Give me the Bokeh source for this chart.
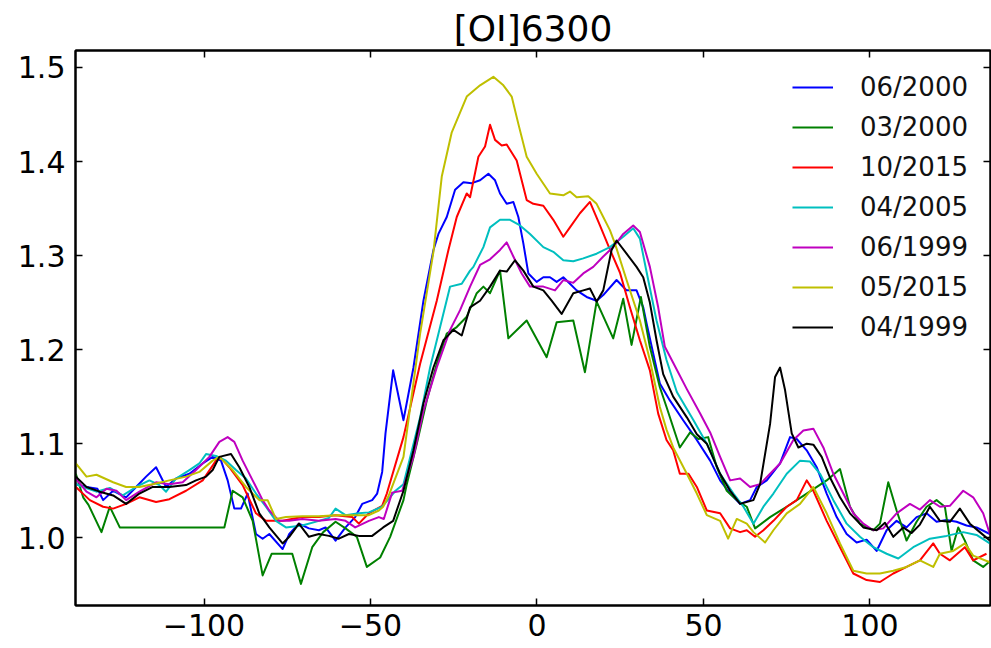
from bokeh.plotting import figure
from bokeh.models import (Range1d, FixedTicker, CustomJSTickFormatter, LinearAxis,
                          Legend, LegendItem, CustomLabelingPolicy)
from bokeh.embed import file_html
from bokeh.resources import INLINE

TITLE = "[OI]6300"
X_TICKS = [-100, -50, 0, 50, 100]
Y_TICKS = [1.0, 1.1, 1.2, 1.3, 1.4, 1.5]

LABELS = ["06/2000", "03/2000", "10/2015", "04/2005", "06/1999", "05/2015", "04/1999"]
COLORS = ["#0000ff", "#008000", "#ff0000", "#00bfbf", "#bf00bf", "#bfbf00", "#000000"]

# (velocity km/s, normalized flux) pairs
S_06_2000 = [(-138.5,1.057),(-135.3,1.054),(-132,1.052),(-130.3,1.040),(-127.3,1.050),(-123.4,1.043),
    (-120.4,1.054),(-117.4,1.065),(-114.4,1.075),(-111.4,1.054),(-108.4,1.063),(-104.4,1.068),
    (-100.4,1.079),(-97.4,1.086),(-94.9,1.082),(-92.9,1.061),(-90.9,1.031),(-88.9,1.031),
    (-86.9,1.047),(-84.4,1.004),(-82.4,0.999),(-80.4,1.004),(-76.4,0.988),(-74.4,1.004),
    (-71.5,1.015),(-68.5,1.010),(-65.5,1.008),(-63.5,1.011),(-60.5,0.997),(-57.5,1.011),
    (-54.6,1.022),(-52.5,1.036),(-49.5,1.040),(-48,1.047),(-46.5,1.070),(-45.5,1.111),
    (-43.2,1.178),(-40.1,1.125),(-37.1,1.181),(-34.1,1.252),(-31.1,1.306),(-29.6,1.323),
    (-27.1,1.341),(-24.6,1.370),(-22.1,1.378),(-19.6,1.377),(-17.1,1.380),(-14.6,1.387),
    (-12.6,1.380),(-11.1,1.366),(-9.1,1.355),(-7.1,1.357),(-5.6,1.341),(-4.1,1.313),
    (-2.6,1.281),(-0.1,1.272),(1.9,1.277),(3.9,1.277),(5.9,1.272),(7.9,1.277),(9.9,1.270),
    (11.9,1.263),(14.9,1.256),(17.9,1.252),(19.9,1.258),(23.9,1.274),(26.9,1.263),(29.9,1.263),
    (31.9,1.245),(32.9,1.228),(34.9,1.196),(36.9,1.164),(39.9,1.146),(43.9,1.125),(48,1.104),
    (52,1.082),(55,1.061),(58,1.047),(61,1.036),(64,1.040),(66,1.054),(69,1.061),(73,1.079),
    (76,1.107),(78,1.105),(81,1.093),(84,1.075),(87,1.047),(90,1.022),(93,1.004),(96,0.995),
    (99,0.998),(102,0.986),(105,1.008),(108,1.018),(111,1.011),(114,1.022),(117,1.026),
    (120,1.017),(123,1.019),(126,1.017),(129,1.013),(132,1.011),(136,1.004)]

S_03_2000 = [(-138.5,1.068),(-136.3,1.043),(-134.7,1.035),(-130.8,1.006),(-128.3,1.033),
    (-125.3,1.011),(-93.9,1.011),(-91.4,1.050),(-88.4,1.043),(-85.4,1.018),(-82.4,0.960),
    (-79.7,0.983),(-73.5,0.983),(-70.9,0.951),(-67.5,0.990),(-64.2,1.006),(-60.5,1.017),
    (-57.5,1.010),(-54.1,1.001),(-51.1,0.969),(-47.1,0.979),(-44.1,1.001),(-40.1,1.040),
    (-39.1,1.057),(-36.1,1.100),(-33.1,1.146),(-30.1,1.185),(-27.1,1.217),(-24.1,1.224),
    (-21.1,1.235),(-18.1,1.260),(-16.1,1.267),(-14.1,1.260),(-11.1,1.284),(-8.6,1.212),
    (-3.1,1.231),(2.9,1.192),(5.9,1.229),(10.9,1.231),(14.4,1.176),(17.9,1.251),(22.9,1.212),
    (25.9,1.254),(28.4,1.205),(31.2,1.256),(33.9,1.203),(36.9,1.160),(38.9,1.139),(42.9,1.096),
    (46,1.112),(48.5,1.105),(51.4,1.107),(54,1.075),(57,1.050),(60,1.040),(63,1.033),
    (65.5,1.010),(70,1.022),(75,1.033),(81,1.047),(87,1.061),(91,1.073),(94,1.033),(97,1.015),
    (101,1.008),(103,1.015),(105.5,1.059),(108,1.029),(111,0.997),(114,1.017),(117,1.033),
    (120,1.040),(122.5,1.033),(124.5,0.986),(126.5,1.011),(128.5,0.997),(131,0.976),
    (134,0.969),(136,0.975)]

S_10_2015 = [(-138.5,1.054),(-134.3,1.040),(-130.3,1.033),(-127.3,1.031),(-123.4,1.036),
    (-119.4,1.043),(-114.4,1.038),(-110.4,1.041),(-105.4,1.050),(-100.4,1.061),(-96.4,1.082),
    (-94.9,1.085),(-92.4,1.075),(-88.4,1.056),(-84.4,1.026),(-81.4,1.018),(-76.4,1.018),
    (-70.5,1.022),(-65.5,1.022),(-60.5,1.024),(-55.5,1.022),(-53.5,1.015),(-50.5,1.026),
    (-46.5,1.034),(-45.1,1.047),(-40.1,1.107),(-35.1,1.185),(-30.1,1.252),(-26.6,1.306),
    (-24.1,1.341),(-21.1,1.366),(-20.1,1.362),(-17.6,1.405),(-15.6,1.416),(-14.1,1.439),
    (-12.6,1.423),(-10.6,1.417),(-9.1,1.418),(-6.1,1.401),(-3.1,1.359),(-1.1,1.355),
    (1.9,1.353),(4.9,1.338),(7.9,1.320),(9.9,1.330),(12.9,1.345),(15.9,1.357),(18.9,1.332),
    (21.6,1.309),(24.9,1.282),(27.9,1.245),(30.9,1.210),(33.9,1.178),(36.4,1.132),
    (38.9,1.104),(40.9,1.093),(42.9,1.068),(45.5,1.068),(48,1.054),(51,1.029),(55,1.026),
    (58,1.010),(61,1.006),(63,1.008),(65.5,1.001),(68,1.008),(71,1.018),(75,1.033),
    (78,1.040),(81,1.061),(83,1.050),(87,1.018),(91,0.990),(95,0.962),(99,0.955),(103,0.953),
    (107,0.962),(111,0.969),(115,0.976),(119,0.994),(121,0.983),(124,0.976),(128.5,0.990),
    (131,0.976),(135,0.983)]

S_04_2005 = [(-138.5,1.057),(-136.3,1.054),(-132.3,1.049),(-128.3,1.053),(-124.4,1.045),
    (-120.4,1.054),(-116.4,1.061),(-113.4,1.056),(-111.4,1.049),(-108.4,1.063),(-104.4,1.072),
    (-101.4,1.079),(-99.4,1.089),(-96.4,1.087),(-93.4,1.082),(-90.4,1.072),(-87.4,1.063),
    (-84.4,1.047),(-81.4,1.033),(-78.4,1.018),(-75.4,1.011),(-70.5,1.013),(-65.5,1.018),
    (-62.5,1.021),(-60.5,1.031),(-57.5,1.024),(-53.5,1.026),(-50.5,1.027),(-46.5,1.033),
    (-42.5,1.050),(-40.1,1.057),(-35.1,1.128),(-32.1,1.181),(-29.1,1.224),(-26.1,1.267),
    (-22.6,1.270),(-20.1,1.284),(-19.1,1.288),(-16.1,1.309),(-14.1,1.330),(-11.1,1.338),
    (-8.1,1.338),(-5.1,1.332),(-2.1,1.323),(1.9,1.309),(4.9,1.304),(7.9,1.295),(10.9,1.294),
    (13.9,1.297),(17.9,1.302),(21.9,1.309),(25.9,1.320),(28.9,1.329),(30.9,1.318),
    (33.4,1.274),(35.9,1.231),(38.9,1.189),(42,1.155),(47,1.125),(51,1.100),(55,1.068),
    (59,1.047),(62,1.033),(65,1.015),(68,1.033),(71,1.047),(75,1.068),(79,1.082),(82,1.081),
    (85,1.068),(89,1.040),(93,1.015),(97,1.001),(101,0.990),(105,0.983),(108.5,0.978),
    (113,0.990),(118,0.999),(123,1.002),(128,1.006),(132,1.003),(136,0.994)]

S_06_1999 = [(-138.5,1.063),(-135.3,1.049),(-132.3,1.043),(-129.3,1.052),(-126.3,1.050),
    (-123.4,1.040),(-119.4,1.049),(-114.4,1.059),(-110.4,1.057),(-106.4,1.059),(-102.4,1.072),
    (-98.4,1.086),(-95.4,1.102),(-92.9,1.107),(-90.9,1.102),(-88.4,1.082),(-85.4,1.061),
    (-82.4,1.040),(-80.4,1.029),(-77.4,1.018),(-74.4,1.018),(-70.5,1.020),(-65.5,1.018),
    (-60.5,1.020),(-57.5,1.018),(-54.6,1.011),(-50.5,1.018),(-47.5,1.022),(-46,1.020),
    (-43.5,1.048),(-40.5,1.050),(-37.1,1.086),(-34.1,1.135),(-30.1,1.181),(-26.1,1.221),
    (-23.1,1.242),(-20.1,1.267),(-17.1,1.290),(-14.1,1.296),(-11.1,1.306),(-9.1,1.314),
    (-7.1,1.299),(-4.6,1.281),(-2.1,1.267),(1.9,1.267),(5.4,1.263),(7.9,1.274),(10.9,1.271),
    (13.9,1.281),(16.9,1.288),(19.9,1.299),(22.9,1.309),(25.9,1.323),(28.9,1.332),
    (30.9,1.325),(33.9,1.288),(36.4,1.245),(38.4,1.203),(40.9,1.186),(45,1.158),(49,1.132),
    (52,1.112),(55,1.086),(58,1.061),(61,1.063),(64,1.054),(67,1.057),(70,1.068),(73,1.079),
    (77,1.104),(80,1.114),(83,1.116),(86,1.096),(89,1.068),(92,1.047),(95,1.026),(98,1.015),
    (101,1.008),(104,1.010),(108,1.026),(112,1.036),(115,1.030),(118,1.040),(121,1.033),
    (124,1.034),(128,1.050),(131,1.043),(134,1.026),(136,1.004)]

S_05_2015 = [(-138.5,1.079),(-135.3,1.065),(-132.3,1.067),(-127.3,1.059),(-123.4,1.054),
    (-119.4,1.054),(-115.4,1.057),(-110.4,1.061),(-105.4,1.065),(-101.4,1.070),(-97.4,1.082),
    (-95.4,1.086),(-91.4,1.072),(-87.4,1.054),(-83.4,1.040),(-80.9,1.040),(-78.4,1.020),
    (-75.4,1.022),(-70.5,1.023),(-65.5,1.023),(-60.5,1.024),(-55.5,1.024),(-50.5,1.024),
    (-47.5,1.029),(-46.2,1.033),(-44.5,1.045),(-40.1,1.086),(-35.1,1.217),(-31.1,1.304),
    (-28.6,1.384),(-25.6,1.431),(-21.1,1.469),(-17.1,1.481),(-13.1,1.490),(-10.1,1.481),
    (-7.6,1.469),(-5.6,1.440),(-3.1,1.405),(-0.1,1.387),(3.9,1.366),(7.9,1.364),(9.9,1.368),
    (11.9,1.362),(15.4,1.363),(17.9,1.355),(19.9,1.341),(21.9,1.327),(23.4,1.313),
    (26.9,1.274),(30.9,1.231),(33.9,1.189),(36.9,1.139),(38.9,1.115),(40.9,1.096),(45,1.068),
    (48,1.047),(51,1.024),(55,1.018),(57.4,0.999),(60,1.020),(63,1.015),(65,1.006),
    (68.5,0.995),(71,1.008),(75,1.026),(79,1.036),(83,1.054),(87,1.026),(91,0.994),
    (95,0.965),(99,0.962),(103,0.962),(107,0.965),(111,0.969),(115,0.976),(119,0.969),
    (121,0.983),(125,0.986),(128.5,0.994),(131,0.981),(136,0.974)]

S_04_1999 = [(-138.5,1.065),(-135.3,1.054),(-131.3,1.049),(-127.3,1.045),(-123.4,1.036),
    (-119.4,1.047),(-115.4,1.054),(-110.4,1.054),(-105.4,1.056),(-102.4,1.061),(-99.4,1.065),
    (-97.4,1.072),(-95.4,1.086),(-91.9,1.089),(-89.4,1.075),(-86.4,1.054),(-83.4,1.026),
    (-80.4,1.011),(-76.4,0.994),(-74.4,1.001),(-71.5,1.015),(-68.5,1.001),(-65.5,1.004),
    (-62.5,1.002),(-59.5,0.999),(-56.5,1.004),(-53.5,1.002),(-49.5,1.002),(-46.2,1.011),
    (-43.2,1.018),(-40.1,1.050),(-37.1,1.093),(-34.1,1.143),(-31.1,1.181),(-28.1,1.210),
    (-25.1,1.221),(-22.6,1.215),(-20.1,1.245),(-17.1,1.252),(-14.1,1.267),(-11.1,1.284),
    (-9.1,1.283),(-6.6,1.295),(-4.1,1.284),(-1.1,1.267),(1.9,1.263),(4.4,1.252),(7.4,1.238),
    (10.9,1.260),(13.9,1.263),(15.9,1.265),(17.9,1.251),(19.9,1.263),(22.4,1.306),
    (23.9,1.316),(26.9,1.302),(29.9,1.288),(31.9,1.277),(33.9,1.250),(35.9,1.210),
    (37.9,1.174),(40.9,1.150),(45,1.128),(48,1.110),(51,1.100),(55,1.068),(58,1.050),
    (61,1.036),(65,1.040),(67,1.057),(70,1.121),(71.5,1.171),(73,1.181),(74.5,1.157),
    (76.5,1.111),(78.5,1.096),(81,1.100),(83,1.099),(85.5,1.086),(88,1.064),(91,1.043),
    (94,1.026),(98,1.011),(102,1.008),(104.5,1.016),(107,1.001),(110,1.011),(112.5,1.005),
    (115,1.014),(118,1.033),(121,1.018),(124,1.017),(127,1.031),(130,1.015),(133,1.006),
    (136,0.997)]

SERIES = [S_06_2000, S_03_2000, S_10_2015, S_04_2005, S_06_1999, S_05_2015, S_04_1999]

FONT = "DejaVu Sans"

p = figure(width=991, height=648, output_backend="svg", toolbar_location=None,
           x_range=Range1d(-138.6, 136.2), y_range=Range1d(0.928, 1.518),
           min_border_left=75, min_border_right=1, min_border_top=50, min_border_bottom=43)
p.background_fill_color = "white"
p.border_fill_color = "white"
p.outline_line_color = "black"
p.outline_line_width = 2
p.xgrid.visible = False
p.ygrid.visible = False

p.title.text = TITLE
p.title.align = "center"
p.title.text_font = FONT
p.title.text_font_size = "36px"
p.title.text_font_style = "normal"
p.title.text_color = "black"
p.title.standoff = 3

xfmt = CustomJSTickFormatter(code="return tick < 0 ? '\u2212' + Math.abs(tick).toFixed(0) : tick.toFixed(0);")
yfmt = CustomJSTickFormatter(code="return tick.toFixed(1);")
blank = CustomJSTickFormatter(code="return '';")

def style_axis(ax, ticks, fmt, show_labels):
    ax.ticker = FixedTicker(ticks=ticks)
    ax.major_tick_in = 7
    ax.major_tick_out = 0
    ax.major_tick_line_width = 1.5
    ax.major_tick_line_color = "black"
    ax.minor_tick_line_color = None
    ax.axis_line_width = 2
    ax.axis_line_color = "black"
    ax.major_label_text_font = FONT
    if show_labels:
        ax.formatter = fmt
        ax.major_label_text_color = "black"
        ax.major_label_text_font_size = "30px"
    else:
        # tick marks only: no labels are drawn on the mirrored axes
        ax.formatter = blank
        ax.major_label_policy = CustomLabelingPolicy(code="return []")
        ax.major_label_text_color = None
        ax.major_label_text_font_size = "1px"
        ax.major_label_standoff = 0

style_axis(p.xaxis[0], X_TICKS, xfmt, True)
style_axis(p.yaxis[0], Y_TICKS, yfmt, True)
p.xaxis[0].major_label_standoff = 8
p.yaxis[0].major_label_standoff = 10

top_ax = LinearAxis()
style_axis(top_ax, X_TICKS, None, False)
p.add_layout(top_ax, "above")
right_ax = LinearAxis()
style_axis(right_ax, Y_TICKS, None, False)
p.add_layout(right_ax, "right")

items = []
for label, color, pts in zip(LABELS, COLORS, SERIES):
    xs = [a for a, b in pts]
    ys = [b for a, b in pts]
    r = p.line(xs, ys, line_color=color, line_width=2, line_join="round")
    items.append(LegendItem(label=label, renderers=[r]))

legend = Legend(items=items, location="top_right", border_line_color=None,
                background_fill_alpha=0, label_text_font=FONT, label_text_font_size="26px",
                label_text_color="#111111", glyph_width=41, glyph_height=30, label_height=30,
                spacing=10, label_standoff=27, padding=20, margin=22)
p.add_layout(legend)

open("out.html", "w").write(file_html(p, INLINE))
